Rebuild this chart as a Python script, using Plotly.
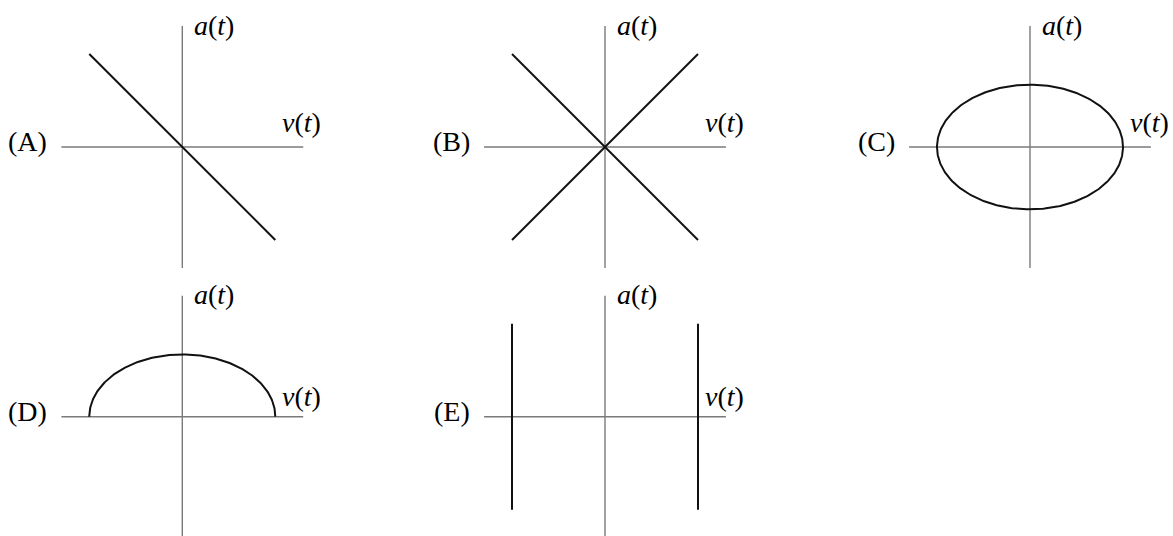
import numpy as np
import plotly.graph_objects as go

# Canvas and scale
W, H = 1173, 536
PX_PER_UNIT = 93          # pixels per unit of v / a
AXIS_HALF = 1.3           # half-length of each drawn axis
VIEW_HALF = 1.45          # half-extent of each panel's visible range

PANELS = ["A", "B", "C", "D", "E"]
# panel origin in pixels (x from left, y from top)
PANEL_ORIGIN = {
    "A": (182.3, 147.0),
    "B": (605.0, 147.0),
    "C": (1030.0, 147.0),
    "D": (182.3, 416.7),
    "E": (605.0, 416.7),
}

# ---- curve data (v on horizontal axis, a on vertical axis) ----
A_V = [-1.0, 1.0]
A_A = [1.0, -1.0]

B1_V = [-1.0, 1.0]
B1_A = [1.0, -1.0]
B2_V = [-1.0, 1.0]
B2_A = [-1.0, 1.0]

C_SEMI_V = 1.0            # ellipse semi-axis along v
C_SEMI_A = 0.67           # ellipse semi-axis along a

D_SEMI_V = 1.0            # upper half-ellipse semi-axis along v
D_SEMI_A = 0.67           # upper half-ellipse semi-axis along a

E_LINES_V = [-1.0, 1.0]   # v positions of the two vertical segments
E_A_RANGE = [-1.0, 1.0]   # a extent of those segments

AXIS_COLOR = "#7a7a7a"
CURVE_COLOR = "#111111"
FONT = "Liberation Serif"
FONT_SIZE = 28

fig = go.Figure()

def axis_ids(i):
    n = "" if i == 0 else str(i + 1)
    return "x" + n, "y" + n, "xaxis" + n, "yaxis" + n

layout_axes = {}
annotations = []

for i, name in enumerate(PANELS):
    cx, cy = PANEL_ORIGIN[name]
    xr, yr, xkey, ykey = axis_ids(i)
    left = cx - VIEW_HALF * PX_PER_UNIT
    right = cx + VIEW_HALF * PX_PER_UNIT
    top = cy - VIEW_HALF * PX_PER_UNIT
    bottom = min(cy + VIEW_HALF * PX_PER_UNIT, H)
    common = dict(showgrid=False, zeroline=False, showticklabels=False,
                  ticks="", showline=False, fixedrange=True)
    layout_axes[xkey] = dict(domain=[left / W, right / W],
                             range=[-VIEW_HALF, VIEW_HALF],
                             anchor=yr, **common)
    layout_axes[ykey] = dict(domain=[1 - bottom / H, 1 - top / H],
                             range=[-(bottom - cy) / PX_PER_UNIT, VIEW_HALF],
                             anchor=xr, **common)

    # coordinate axes
    fig.add_trace(go.Scatter(x=[-AXIS_HALF, AXIS_HALF], y=[0, 0], mode="lines",
                             line=dict(color=AXIS_COLOR, width=1.4),
                             xaxis=xr, yaxis=yr, hoverinfo="skip"))
    fig.add_trace(go.Scatter(x=[0, 0], y=[-AXIS_HALF, AXIS_HALF], mode="lines",
                             line=dict(color=AXIS_COLOR, width=1.4),
                             xaxis=xr, yaxis=yr, hoverinfo="skip"))

    # labels
    upper_row = cy < H / 2
    label_font = dict(family=FONT, size=FONT_SIZE, color="black")
    annotations.append(dict(text="<i>a</i>(<i>t</i>)", xref=xr, yref=yr,
                            x=10 / PX_PER_UNIT, y=AXIS_HALF + 0.01,
                            xanchor="left", yanchor="middle", showarrow=False,
                            font=label_font))
    annotations.append(dict(text="<i>v</i>(<i>t</i>)", xref=xr, yref=yr,
                            x=AXIS_HALF - 23 / PX_PER_UNIT,
                            y=(24 if upper_row else 20.5) / PX_PER_UNIT,
                            xanchor="left", yanchor="middle", showarrow=False,
                            font=label_font))
    annotations.append(dict(text="(" + name + ")", xref=xr, yref=yr,
                            x=-AXIS_HALF - 12 / PX_PER_UNIT,
                            y=5 / PX_PER_UNIT,
                            xanchor="right", yanchor="middle", showarrow=False,
                            font=label_font))

def curve(v, a, i):
    xr, yr, _, _ = axis_ids(i)
    fig.add_trace(go.Scatter(x=v, y=a, mode="lines",
                             line=dict(color=CURVE_COLOR, width=2),
                             xaxis=xr, yaxis=yr, hoverinfo="skip"))

# (A) straight line through the origin
curve(A_V, A_A, 0)

# (B) two crossing lines
curve(B1_V, B1_A, 1)
curve(B2_V, B2_A, 1)

# (C) closed ellipse
theta = np.linspace(0, 2 * np.pi, 361)
curve(C_SEMI_V * np.cos(theta), C_SEMI_A * np.sin(theta), 2)

# (D) upper half of an ellipse
theta_half = np.linspace(0, np.pi, 181)
curve(D_SEMI_V * np.cos(theta_half), D_SEMI_A * np.sin(theta_half), 3)

# (E) two vertical segments
for v in E_LINES_V:
    curve([v, v], E_A_RANGE, 4)

fig.update_layout(
    width=W, height=H,
    margin=dict(l=0, r=0, t=0, b=0),
    paper_bgcolor="white", plot_bgcolor="rgba(0,0,0,0)",
    showlegend=False,
    annotations=annotations,
    **layout_axes,
)

fig.write_html("out.html")
